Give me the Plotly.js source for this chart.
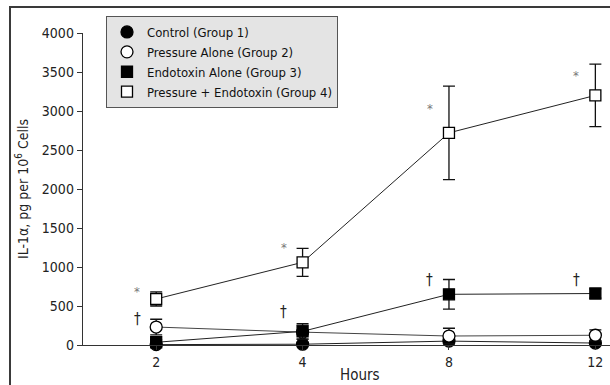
<!DOCTYPE html>
<html>
<head>
<meta charset="utf-8">
<script src="https://cdn.plot.ly/plotly-3.0.1.min.js"></script>
<style>
  html, body { margin: 0; padding: 0; background: #fff; }
  #wrap { position: relative; width: 610px; height: 385px; overflow: hidden; }
  #frame { position: absolute; left: 9px; top: 6px; width: 700px; height: 500px; border-left: 2px solid #3a3a3a; border-top: 2px solid #3a3a3a; pointer-events: none; }
  #chart { position: absolute; left: 0; top: 0; width: 610px; height: 385px; }
</style>
</head>
<body>
<div id="wrap">
  <div id="chart"></div>
  <div id="frame"></div>
</div>
<script>
// ---- data ----
const hours = ['2', '4', '8', '12'];
const groupNames = ['Control (Group 1)', 'Pressure Alone (Group 2)', 'Endotoxin Alone (Group 3)', 'Pressure + Endotoxin (Group 4)'];
const control = [5, 10, 50, 25];
const controlErr = [15, 15, 20, 15];
const pressure = [230, 165, 115, 125];
const pressureErr = [100, 90, 100, 70];
const endotoxin = [35, 175, 650, 660];
const endotoxinErr = [30, 100, 190, 60];
const pressEndo = [590, 1060, 2720, 3200];
const pressEndoErr = [90, 180, 600, 400];
// significance marks (label heights in data units)
const starY = [692, 1256, 3026, 3449];
const daggerY = [333, 423, 833, 833];

const FONT = '"DejaVu Sans Condensed", "Liberation Sans", Arial, sans-serif';
const series = [
  {y: control, e: controlErr, symbol: 'circle', fill: '#000'},
  {y: pressure, e: pressureErr, symbol: 'circle', fill: '#fff'},
  {y: endotoxin, e: endotoxinErr, symbol: 'square', fill: '#000'},
  {y: pressEndo, e: pressEndoErr, symbol: 'square', fill: '#fff'}
];
const xIdx = hours.map((h, i) => i);

const traces = [];
// connecting lines first (under markers)
series.forEach((s, k) => {
  traces.push({
    x: xIdx, y: s.y, type: 'scatter', mode: 'lines',
    line: {color: k === 1 ? '#444' : '#222', width: 1}, showlegend: false, hoverinfo: 'skip', cliponaxis: false
  });
});
// markers with error bars
series.forEach((s, k) => {
  traces.push({
    x: xIdx, y: s.y, type: 'scatter', mode: 'markers', name: groupNames[k],
    marker: {symbol: s.symbol, size: s.symbol === 'square' ? 11 : 12,
             color: s.fill, line: {color: '#000', width: 1.3}},
    error_y: {type: 'data', array: s.e, visible: true, color: '#111', thickness: 1.3, width: 6},
    cliponaxis: false
  });
});

const annotations = [];
xIdx.forEach(i => {
  annotations.push({x: i, y: starY[i], xref: 'x', yref: 'y', text: '*', showarrow: false,
    xshift: -19, font: {family: FONT, size: 13, color: '#777'}, yanchor: 'middle'});
  annotations.push({x: i, y: daggerY[i], xref: 'x', yref: 'y', text: '†', showarrow: false,
    xshift: -19, font: {family: FONT, size: 15, color: '#222'}, yanchor: 'middle'});
});
annotations.push({x: (360 - 83) / 527, y: (345 - 375) / 312, xref: 'paper', yref: 'paper',
  text: 'Hours', showarrow: false, yanchor: 'middle',
  font: {family: FONT, size: 15, color: '#222'}});

const layout = {
  width: 610, height: 385,
  margin: {l: 83, r: 0, t: 33, b: 40},
  paper_bgcolor: 'rgba(0,0,0,0)', plot_bgcolor: 'rgba(0,0,0,0)',
  font: {family: FONT, size: 13, color: '#222'},
  showlegend: true,
  legend: {x: (106 - 83) / 527, y: (345 - 16) / 312, xanchor: 'left', yanchor: 'top',
    bgcolor: '#e4e4e4', bordercolor: '#555', borderwidth: 1,
    font: {family: FONT, size: 13, color: '#111'}, tracegroupgap: 0, itemwidth: 30},
  xaxis: {
    type: 'linear', range: [-0.5, 3.1], tickmode: 'array', tickvals: xIdx, ticktext: hours,
    showgrid: false, zeroline: false, showline: true, linecolor: '#333', linewidth: 1.3,
    ticks: 'outside', ticklen: 4, tickcolor: '#333', tickfont: {family: FONT, size: 14, color: '#222'}
  },
  yaxis: {
    range: [0, 4000], tickvals: [0, 500, 1000, 1500, 2000, 2500, 3000, 3500, 4000],
    showgrid: false, zeroline: false, showline: true, linecolor: '#333', linewidth: 1.3,
    ticks: 'outside', ticklen: 5, tickcolor: '#333', tickfont: {family: FONT, size: 14, color: '#222'},
    title: {text: 'IL-1α, pg per 10<sup>6</sup> Cells', font: {family: FONT, size: 14, color: '#222'}, standoff: 10}
  },
  annotations: annotations
};

Plotly.newPlot('chart', traces, layout, {displayModeBar: false, staticPlot: true});
</script>
</body>
</html>
